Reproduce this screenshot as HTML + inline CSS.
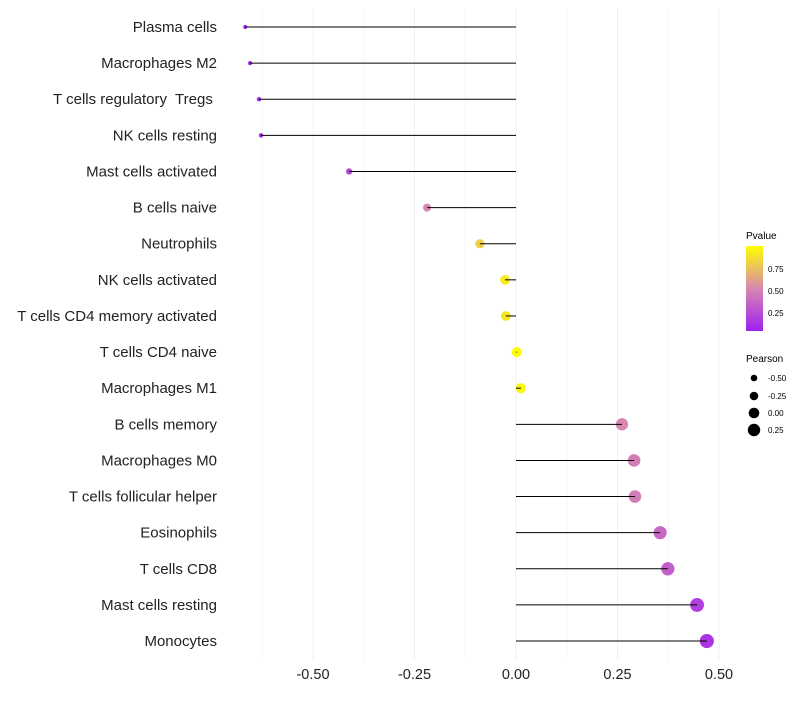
<!DOCTYPE html>
<html><head><meta charset="utf-8"><style>
body{margin:0;background:#fff;font-family:"Liberation Sans",sans-serif}
text{white-space:pre}
</style></head><body>
<svg id="chart" width="800" height="700" xmlns="http://www.w3.org/2000/svg">
<defs><linearGradient id="pg" x1="0" y1="1" x2="0" y2="0">
<stop offset="0" stop-color="#A020F0"/><stop offset="0.5" stop-color="#D887B0"/><stop offset="1" stop-color="#FFFF00"/>
</linearGradient></defs>
<g id="grid"></g><g id="dots"></g><g id="marks"></g><g id="labels"></g>
<g>
<text x="746" y="239" font-size="10">Pvalue</text>
<rect x="746" y="246" width="17" height="85" fill="url(#pg)"/>
<text x="768" y="272" font-size="8">0.75</text>
<text x="768" y="294" font-size="8">0.50</text>
<text x="768" y="316" font-size="8">0.25</text>
</g>
<g>
<text x="746" y="362" font-size="10">Pearson</text>
<circle cx="754" cy="378" r="3.3"/><text x="768" y="381" font-size="8">-0.50</text>
<circle cx="754" cy="396" r="4.3"/><text x="768" y="399" font-size="8">-0.25</text>
<circle cx="754" cy="413" r="5.3"/><text x="768" y="416" font-size="8">0.00</text>
<circle cx="754" cy="430" r="6.2"/><text x="768" y="433" font-size="8">0.25</text>
</g>
</svg>
<script>
const categories=["Plasma cells","Macrophages M2","T cells regulatory  Tregs ","NK cells resting","Mast cells activated","B cells naive","Neutrophils","NK cells activated","T cells CD4 memory activated","T cells CD4 naive","Macrophages M1","B cells memory","Macrophages M0","T cells follicular helper","Eosinophils","T cells CD8","Mast cells resting","Monocytes"];
const pearson=[-0.667,-0.655,-0.633,-0.628,-0.411,-0.219,-0.089,-0.027,-0.025,0.002,0.012,0.261,0.291,0.293,0.355,0.374,0.446,0.470];
const pvalue=[0.03,0.04,0.05,0.06,0.2,0.5,0.8,0.92,0.9,0.99,0.96,0.5,0.45,0.45,0.35,0.3,0.15,0.1];
const ticks=[-0.5,-0.25,0,0.25,0.5];
const tickLabels=["-0.50","-0.25","0.00","0.25","0.50"];
const NS="http://www.w3.org/2000/svg";
const xs=v=>516+v*406;
const ys=i=>27+i*36.12;
const rs=v=>5+4.4*v;
function col(p){
  const a=[160,32,240],m=[216,135,176],b=[255,255,0];let c=[];
  if(p<0.5){const t=p/0.5;c=a.map((x,k)=>x+(m[k]-x)*t);}else{const t=(p-0.5)/0.5;c=m.map((x,k)=>x+(b[k]-x)*t);}
  return `rgb(${c.map(Math.round).join(",")})`;
}
function mk(t,at){const e=document.createElementNS(NS,t);for(const k in at)e.setAttribute(k,at[k]);return e;}
const grid=document.getElementById('grid'),marks=document.getElementById('marks'),labels=document.getElementById('labels'),dots=document.getElementById('dots');
for(let v=-0.625;v<=0.55;v+=0.125){
  const g=mk('line',{x1:xs(v),x2:xs(v),y1:8,y2:660,stroke:'#f0f0f0','stroke-width':Math.abs((v/0.25)%1)<1e-6?1:0.6});
  
  
  grid.appendChild(g);
}
ticks.forEach((t,i)=>{
  const e=mk('text',{x:xs(t),y:679,'font-size':14.5,'text-anchor':'middle',fill:'#222'});
  e.textContent=tickLabels[i];
  
  
  labels.appendChild(e);
});
categories.forEach((c,i)=>{
  const e=mk('text',{x:217,y:ys(i)+5,'font-size':15,'text-anchor':'end',fill:'#222'});
  e.textContent=c;
  
  
  labels.appendChild(e);
  const l=mk('line',{x1:xs(0),x2:xs(pearson[i]),y1:ys(i),y2:ys(i),stroke:'#000','stroke-width':1});
  
  
  marks.appendChild(l);
  const d=mk('circle',{cx:xs(pearson[i]),cy:ys(i),r:rs(pearson[i]),fill:col(pvalue[i])});
  
  
  dots.appendChild(d);
});
</script>
</body></html>
